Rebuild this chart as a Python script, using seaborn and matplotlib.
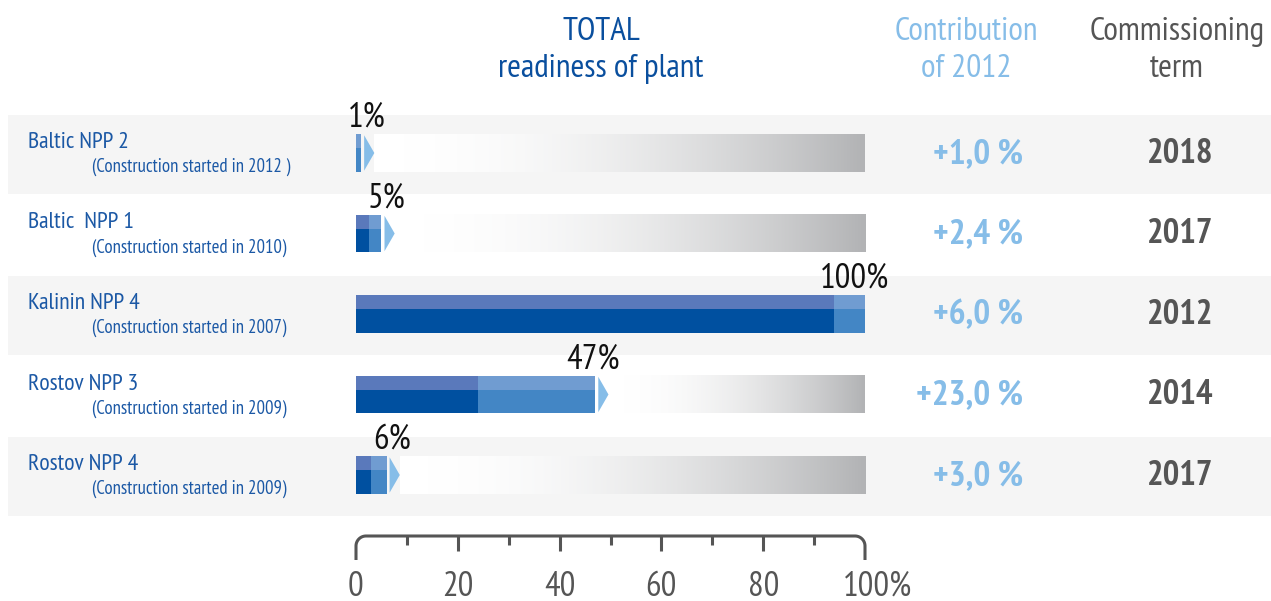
import numpy as np
import pandas as pd
import matplotlib
matplotlib.use("Agg")
import matplotlib.pyplot as plt
from matplotlib.colors import LinearSegmentedColormap
from matplotlib.patches import Polygon, Rectangle
import seaborn as sns

# ---------------- data ----------------
plants = ["Baltic NPP 2", "Baltic  NPP 1", "Kalinin NPP 4", "Rostov NPP 3", "Rostov NPP 4"]
started = ["(Construction started in 2012 )", "(Construction started in 2010)",
           "(Construction started in 2007)", "(Construction started in 2009)",
           "(Construction started in 2009)"]
total_readiness = [1, 5, 100, 47, 6]
contribution_2012 = [1.0, 2.4, 6.0, 23.0, 3.0]
contribution_labels = ["+1,0 %", "+2,4 %", "+6,0 %", "+23,0 %", "+3,0 %"]
commissioning = ["2018", "2017", "2012", "2014", "2017"]
axis_ticks = [0, 20, 40, 60, 80, 100]
axis_tick_labels = ["0", "20", "40", "60", "80", "100%"]
minor_ticks = [10, 30, 50, 70, 90]

prev_readiness = [max(t - c, 0) for t, c in zip(total_readiness, contribution_2012)]

df = pd.DataFrame({"plant": plants, "total": total_readiness, "prev": prev_readiness})

# ---------------- style ----------------
sns.set_style("white")
plt.rcParams["font.family"] = ["PT Sans Narrow", "DejaVu Sans"]

DARK = "#0050a0"
DARK_TOP = "#5a79bb"
MID = "#4386c5"
MID_TOP = "#709cd1"
ARROW = "#86bde8"
BAND = "#f5f5f5"
LABEL_BLUE = "#1b58a5"
GREY_TXT = "#555555"

W, H = 1271, 601
fig = plt.figure(figsize=(W / 100, H / 100), dpi=100)
ax = fig.add_axes([0, 0, 1, 1])

PXU = 5.09      # pixels per percent
X0 = 356        # pixel of 0 %
Y0 = 153        # pixel of first row centre
PITCH = 80.5    # pixels per row

def dx(px):
    return (px - X0) / PXU

def dy(px):
    return (px - Y0) / PITCH

n = len(plants)
bar_h = 0.46
half = bar_h / 2
strip = 14 / PITCH

# background bands
for i in range(n):
    if i % 2 == 0:
        ax.add_patch(Rectangle((dx(8), i - 0.47), dx(1271) - dx(8), 0.98,
                               facecolor=BAND, edgecolor="none", zorder=0))

# grey gradient tracks
grad_cmap = LinearSegmentedColormap.from_list("trk", ["#ffffff", "#b2b3b5"])
for i, t in enumerate(total_readiness):
    start = t + 2.6
    if start < 100:
        xs = np.linspace(0, 1, 256) ** 2
        ax.imshow(xs[None, :], extent=[start, 100, i + half, i - half],
                  cmap=grad_cmap, vmin=0, vmax=1, aspect="auto",
                  interpolation="bilinear", zorder=1)

# bars via seaborn
sns.barplot(data=df, x="total", y="plant", orient="h", color=MID, width=bar_h,
            saturation=1, errorbar=None, linewidth=0, ax=ax, zorder=2)
sns.barplot(data=df, x="prev", y="plant", orient="h", color=DARK, width=bar_h,
            saturation=1, errorbar=None, linewidth=0, ax=ax, zorder=3)

# lighter top strips
ypos = np.arange(n)
ax.barh(ypos - half + strip / 2, np.array(contribution_2012), left=np.array(prev_readiness),
        height=strip, color=MID_TOP, linewidth=0, zorder=4)
ax.barh(ypos - half + strip / 2, np.array(prev_readiness), height=strip,
        color=DARK_TOP, linewidth=0, zorder=4)

# arrows
for i, t in enumerate(total_readiness):
    if t < 100:
        ax.add_patch(Polygon([(t + 0.6, i - 0.22), (t + 0.6, i + 0.22), (t + 2.6, i)],
                             closed=True, facecolor=ARROW, edgecolor="none", zorder=5))

# percent labels
for i, t in enumerate(total_readiness):
    ax.text(t + 4.8, i + dy(Y0 - 26), f"{t}%", ha="right", va="baseline",
            fontsize=25, color="#111111", zorder=6)

# left labels
for i, (p, s) in enumerate(zip(plants, started)):
    ax.text(dx(28), i + dy(Y0 - 5), p, ha="left", va="baseline",
            fontsize=17, color=LABEL_BLUE)
    ax.text(dx(92), i + dy(Y0 + 19), s, ha="left", va="baseline",
            fontsize=13.5, color=LABEL_BLUE)

# right columns
for i, (c, y) in enumerate(zip(contribution_labels, commissioning)):
    ax.text(dx(1023), i + dy(Y0 + 10), c, ha="right", va="baseline",
            fontsize=25.5, fontweight="bold", color=ARROW)
    ax.text(dx(1180), i + dy(Y0 + 10), y, ha="center", va="baseline",
            fontsize=25, fontweight="bold", color=GREY_TXT)

# headers
HS = 24
ax.text(dx(601), dy(40), "TOTAL", ha="center", va="baseline", fontsize=HS, color="#0a4f9e")
ax.text(dx(601), dy(77), "readiness of plant", ha="center", va="baseline", fontsize=HS, color="#0a4f9e")
ax.text(dx(966), dy(40), "Contribution", ha="center", va="baseline", fontsize=HS, color=ARROW)
ax.text(dx(966), dy(77), "of 2012", ha="center", va="baseline", fontsize=HS, color=ARROW)
ax.text(dx(1177), dy(40), "Commissioning", ha="center", va="baseline", fontsize=HS, color=GREY_TXT)
ax.text(dx(1177), dy(77), "term", ha="center", va="baseline", fontsize=HS, color=GREY_TXT)

# bracket axis
yl = dy(536)
yb = dy(560)
rx = 10 / PXU
ry = 10 / PITCH
xmin, xmax = axis_ticks[0], axis_ticks[-1]
th = np.linspace(np.pi, np.pi / 2, 20)
left_arc_x = xmin + rx + rx * np.cos(th)
left_arc_y = yl + ry - ry * np.sin(th)
th2 = np.linspace(np.pi / 2, 0, 20)
right_arc_x = xmax - rx + rx * np.cos(th2)
right_arc_y = yl + ry - ry * np.sin(th2)
bx = np.concatenate([[xmin], left_arc_x, right_arc_x, [xmax]])
by = np.concatenate([[yb], left_arc_y, right_arc_y, [yb]])
ax.plot(bx, by, color=GREY_TXT, lw=2.2, solid_capstyle="butt", zorder=3)
for t in axis_ticks[1:-1]:
    ax.plot([t, t], [yl, dy(551)], color=GREY_TXT, lw=2.2, solid_capstyle="butt")
for t in minor_ticks:
    ax.plot([t, t], [yl, dy(545)], color=GREY_TXT, lw=2.2, solid_capstyle="butt")
for t, lab in zip(axis_ticks, axis_tick_labels):
    xt = t if lab != "100%" else t + 2.4
    ax.text(xt, dy(596), lab, ha="center", va="baseline", fontsize=25, color=GREY_TXT)

ax.set_xlim(dx(0), dx(W))
ax.set_ylim(dy(H), dy(0))
ax.axis("off")

fig.savefig("out.png", dpi=100, facecolor="white")
